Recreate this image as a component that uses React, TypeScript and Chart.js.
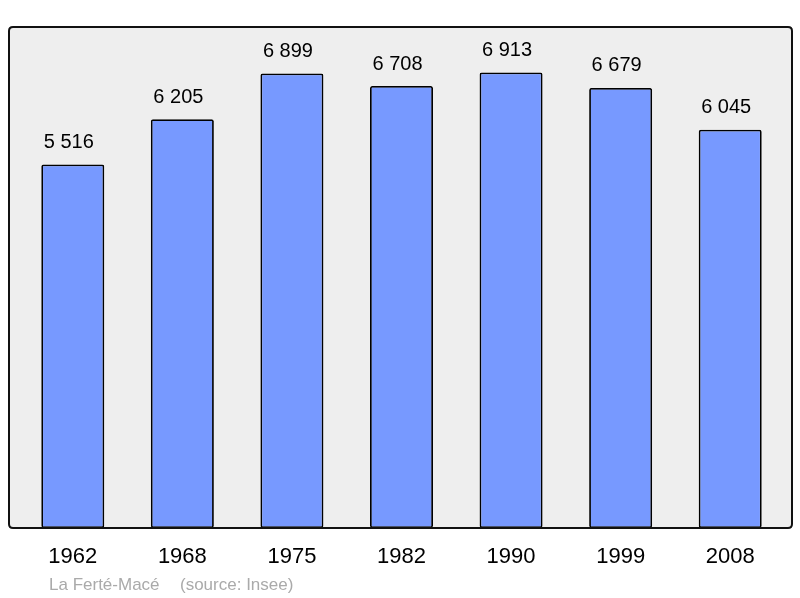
import React, { useEffect, useRef } from "react";
import { Chart, registerables } from "chart.js";

Chart.register(...registerables);

const years = ["1962", "1968", "1975", "1982", "1990", "1999", "2008"];
const population = [5516, 6205, 6899, 6708, 6913, 6679, 6045];
const valueLabels = ["5 516", "6 205", "6 899", "6 708", "6 913", "6 679", "6 045"];
const townName = "La Ferté-Macé";
const sourceText = "(source: Insee)";

const FONT = "'Liberation Sans', Arial, sans-serif";

function roundRect(ctx: CanvasRenderingContext2D, x: number, y: number, w: number, h: number, r: number) {
  ctx.beginPath();
  ctx.moveTo(x + r, y);
  ctx.lineTo(x + w - r, y);
  ctx.quadraticCurveTo(x + w, y, x + w, y + r);
  ctx.lineTo(x + w, y + h - r);
  ctx.quadraticCurveTo(x + w, y + h, x + w - r, y + h);
  ctx.lineTo(x + r, y + h);
  ctx.quadraticCurveTo(x, y + h, x, y + h - r);
  ctx.lineTo(x, y + r);
  ctx.quadraticCurveTo(x, y, x + r, y);
  ctx.closePath();
}

const framePlugin = {
  id: "frame",
  beforeDatasetsDraw(chart: any) {
    const { ctx, chartArea } = chart;
    const left = chartArea.left - 9;
    const right = chartArea.right + 7;
    ctx.save();
    roundRect(ctx, left, chartArea.top, right - left, chartArea.bottom - chartArea.top, 4);
    ctx.fillStyle = "#eeeeee";
    ctx.fill();
    ctx.restore();
  },
  afterDatasetsDraw(chart: any) {
    const { ctx, chartArea, scales } = chart;
    const left = chartArea.left - 9;
    const right = chartArea.right + 7;
    ctx.save();
    roundRect(ctx, left, chartArea.top, right - left, chartArea.bottom - chartArea.top, 4);
    ctx.lineWidth = 2;
    ctx.strokeStyle = "#111111";
    ctx.stroke();

    const meta = chart.getDatasetMeta(0);
    ctx.fillStyle = "#000000";
    ctx.textAlign = "center";
    ctx.textBaseline = "middle";
    ctx.font = `20px ${FONT}`;
    meta.data.forEach((bar: any, i: number) => {
      ctx.fillText(valueLabels[i], bar.x - 4, bar.y - 22);
    });
    ctx.font = `22px ${FONT}`;
    years.forEach((y, i) => {
      const x = scales.x.getPixelForValue(i);
      ctx.fillText(y, x, chartArea.bottom + 29);
    });
    ctx.textAlign = "left";
    ctx.fillStyle = "#aaaaaa";
    ctx.font = `17px ${FONT}`;
    ctx.fillText(townName, 49, chartArea.bottom + 57);
    ctx.fillText(sourceText, 180, chartArea.bottom + 57);
    ctx.restore();
  },
};

export default function App() {
  const ref = useRef<HTMLCanvasElement | null>(null);
  useEffect(() => {
    if (!ref.current) return;
    const chart = new Chart(ref.current, {
      type: "bar",
      data: {
        labels: years,
        datasets: [
          {
            data: population,
            backgroundColor: "#7799ff",
            borderColor: "#000000",
            borderWidth: 1.8,
            borderRadius: 2,
            borderSkipped: false,
            categoryPercentage: 1,
            barPercentage: 0.575,
          },
        ],
      },
      options: {
        animation: false,
        responsive: false,
        maintainAspectRatio: false,
        layout: { padding: { left: 18, right: 15, top: 27, bottom: 70 } },
        plugins: { legend: { display: false }, tooltip: { enabled: false } },
        scales: {
          x: { display: false, offset: true },
          y: { display: false, min: 0, max: 7604 },
        },
      },
      plugins: [framePlugin],
    });
    return () => chart.destroy();
  }, []);
  return (
    <div style={{ position: "absolute", left: 0, top: 0, width: 800, height: 598, background: "#ffffff" }}>
      <canvas ref={ref} width={800} height={598} />
    </div>
  );
}
